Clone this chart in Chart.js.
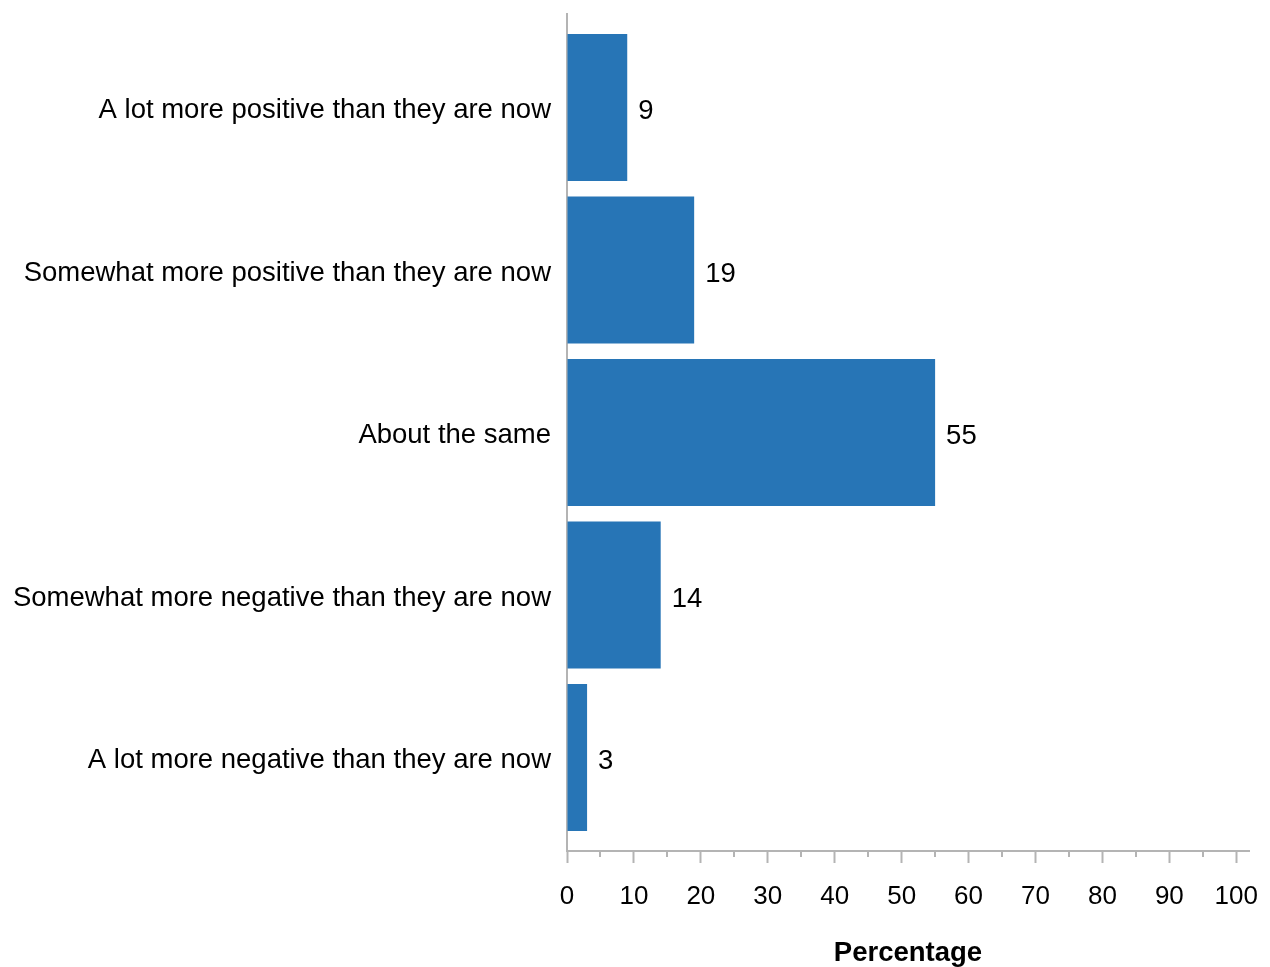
<!DOCTYPE html>
<html>
<head>
<meta charset="utf-8">
<script src="https://cdn.jsdelivr.net/npm/chart.js@4"></script>
<style>
  html, body { margin: 0; padding: 0; background: #fff; }
  #wrap { width: 1270px; height: 967px; position: relative; }
</style>
</head>
<body>
<div id="wrap"><canvas id="c" width="1270" height="967"></canvas></div>
<script>
const categories = [
  "A lot more positive than they are now",
  "Somewhat more positive than they are now",
  "About the same",
  "Somewhat more negative than they are now",
  "A lot more negative than they are now"
];
const percentages = [9, 19, 55, 14, 3];
const xTickValues = [0, 10, 20, 30, 40, 50, 60, 70, 80, 90, 100];
const xTitle = "Percentage";

const FONT = "'Liberation Sans', Arial, sans-serif";
const BAR = "#2775B6";
const AXIS = "#B4B4B4";

const minorTicks = {
  id: 'minorTicks',
  afterDraw(chart) {
    const ctx = chart.ctx, xs = chart.scales.x, y0 = chart.chartArea.bottom;
    ctx.save();
    ctx.strokeStyle = AXIS; ctx.lineWidth = 2;
    for (let v = 5; v < 100; v += 10) {
      const px = Math.round(xs.getPixelForValue(v));
      ctx.beginPath(); ctx.moveTo(px, y0); ctx.lineTo(px, y0 + 6); ctx.stroke();
    }
    ctx.restore();
  }
};

const valueLabels = {
  id: 'valueLabels',
  afterDatasetsDraw(chart) {
    const ctx = chart.ctx, meta = chart.getDatasetMeta(0);
    ctx.save();
    ctx.font = "27.5px " + FONT;
    ctx.fillStyle = "#000";
    ctx.textAlign = "left";
    ctx.textBaseline = "middle";
    meta.data.forEach((bar, i) => {
      ctx.fillText(String(percentages[i]), bar.x + 11, bar.y + 4);
    });
    ctx.restore();
  }
};

new Chart(document.getElementById('c'), {
  type: 'bar',
  data: {
    labels: categories,
    datasets: [{
      data: percentages,
      backgroundColor: BAR,
      borderWidth: 0,
      categoryPercentage: 1,
      barPercentage: 147 / 162.5
    }]
  },
  options: {
    indexAxis: 'y',
    responsive: false,
    animation: false,
    events: [],
    layout: { padding: { top: 14, right: 21, bottom: 0, left: 0 } },
    plugins: { legend: { display: false }, tooltip: { enabled: false } },
    scales: {
      y: {
        afterFit(scale) { scale.width = 567; scale.paddingTop = 0; scale.paddingBottom = 0; },
        afterBuildTicks(scale) { scale._startValue = -0.575; scale._valueRange = 5.15; },
        grid: { display: true, drawOnChartArea: false, drawTicks: false, color: 'rgba(0,0,0,0)' },
        border: { display: true, color: AXIS, width: 2 },
        ticks: { color: '#000', font: { family: FONT, size: 27.5 }, padding: 16, labelOffset: 3 }
      },
      x: {
        min: 0,
        max: 101.9,
        afterFit(scale) { scale.height = 116; scale.paddingLeft = 0; scale.paddingRight = 0; },
        afterBuildTicks(scale) { scale.ticks = xTickValues.map(v => ({ value: v })); },
        grid: {
          display: true, drawOnChartArea: false, drawTicks: true,
          tickLength: 12, tickColor: AXIS, tickWidth: 2, color: AXIS
        },
        border: { display: true, color: AXIS, width: 2 },
        ticks: {
          autoSkip: false, maxRotation: 0, color: '#000',
          font: { family: FONT, size: 26 }, padding: 18
        },
        title: {
          display: true, text: xTitle, color: '#000',
          font: { family: FONT, size: 27.5, weight: 'bold', lineHeight: 1.0 },
          padding: { top: 10, bottom: 0 }
        }
      }
    }
  },
  plugins: [minorTicks, valueLabels]
});
</script>
</body>
</html>
